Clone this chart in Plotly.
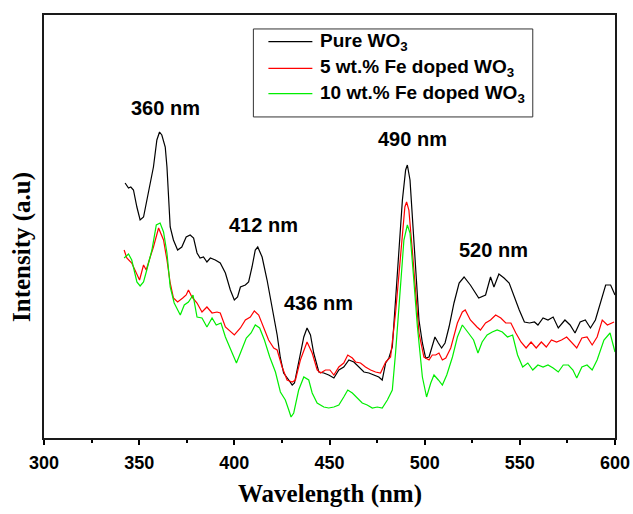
import plotly.graph_objects as go

# ---- data (wavelength in nm, intensity in a.u.) ----
pure_nm = [342.6, 344.4, 345.6, 347, 348.8, 350.5, 352.3, 354, 355.8, 357.5, 359.3, 360.7, 361.9, 363.7,
           364.6, 366.3, 368, 370.2, 372.4, 374.7, 376.8, 378.6, 380.4, 382, 383.8, 385.6, 387.4, 390,
           392.6, 395.3, 397.9, 400, 401.7, 403.2, 405.8, 407.5, 409.3, 411, 412.3, 414.6, 417.2, 419.9,
           422.5, 424.2, 425.9, 428.6, 430.4, 431.6, 433.8, 436.5, 438.2, 440, 441.7, 444.4, 447, 449.6,
           452.3, 454.9, 457.5, 460.2, 462.8, 465.4, 468.1, 470.7, 473.3, 475.9, 477.7, 479.5, 481.2, 483,
           484.7, 486.5, 488.3, 490, 490.9, 492.3, 493.5, 495.3, 497, 498.8, 500.5, 502.3, 504, 505.4,
           507.2, 508.9, 510.7, 512.8, 515.4, 518.1, 520.7, 524, 528.4, 532, 534.6, 536.4, 539, 541.7,
           544.4, 547.1, 549.7, 552.4, 555.1, 557.7, 559.5, 562.2, 564.8, 567.5, 570.2, 573.7, 576.4, 579,
           581.7, 584.4, 587.1, 589.7, 592.4, 595.1, 597.7, 600]
pure_int = [255, 250, 251, 248, 231, 218, 221, 238, 255, 271, 298, 306, 303, 291,
            271, 211, 198, 188, 191, 201, 203, 200, 185, 180, 181, 176, 180, 178,
            175, 165, 148, 138, 141, 151, 153, 156, 171, 188, 191, 181, 158, 131,
            103, 80, 65, 58, 53, 55, 75, 101, 110, 103, 85, 66, 65, 63,
            60, 68, 71, 78, 76, 71, 66, 65, 63, 61, 58, 75, 80, 91,
            138, 188, 238, 268, 273, 258, 221, 161, 118, 95, 80, 81, 91, 101,
            95, 90, 95, 111, 135, 155, 161, 153, 140, 143, 161, 151, 164, 160,
            155, 141, 128, 116, 115, 116, 113, 120, 118, 121, 110, 118, 113, 105,
            116, 118, 110, 118, 136, 153, 153, 143]

fe5_nm = [342.1, 343.5, 346.1, 348.4, 350.2, 352.3, 353.7, 355.8, 357.5, 360.2, 362.8, 364.6, 366.3, 368,
          370.2, 372.9, 374.7, 375.9, 377.7, 380.4, 383, 385.6, 388.3, 390.9, 392.6, 395.3, 397.9, 400,
          403.2, 405.8, 408.4, 410.5, 412.8, 415.4, 418, 420.7, 422.5, 425.1, 427.7, 430.4, 432.1, 434.7,
          438.2, 440.9, 443.5, 445.3, 447.9, 450.2, 452.3, 454.9, 457.5, 459.6, 462, 463.7, 466.3, 468.9,
          471.6, 474.2, 476.8, 479.5, 482.1, 484.7, 487.4, 489.6, 490.5, 491.7, 493.5, 495.3, 497, 499.6,
          502.3, 504, 505.8, 507.5, 509.3, 511.1, 513.7, 517.2, 519.8, 521.3, 524, 527.5, 529.3, 532,
          534.6, 537.3, 540, 542.6, 545.3, 547.9, 550.6, 553.3, 555.9, 558.6, 561.3, 563.9, 566.6, 569.3,
          571.9, 574.6, 577.3, 579.9, 582.6, 585.3, 588, 590.6, 593.3, 596, 599.5]
fe5_int = [188, 180, 175, 165, 158, 173, 168, 181, 191, 210, 198, 178, 155, 140,
           136, 140, 143, 148, 141, 135, 126, 131, 125, 126, 125, 111, 106, 103,
           110, 118, 121, 127, 123, 111, 98, 90, 88, 71, 58, 56, 58, 78,
           96, 85, 68, 65, 68, 68, 63, 71, 75, 83, 80, 76, 75, 71,
           68, 66, 65, 76, 81, 125, 188, 231, 236, 228, 188, 141, 105, 81,
           78, 83, 83, 85, 78, 80, 90, 115, 126, 128, 118, 111, 108, 115,
           118, 123, 120, 115, 115, 105, 96, 90, 96, 90, 96, 91, 98, 96,
           98, 101, 95, 90, 100, 101, 93, 101, 118, 113, 116]

fe10_nm = [342.1, 344.4, 346.1, 348.8, 350.5, 352.3, 354, 356.7, 359, 361, 362.8, 364.6, 366.3, 368.4,
           371.6, 373.7, 375.9, 378.3, 380.4, 383, 385.6, 388.3, 390.5, 393, 395.3, 398.8, 401.1, 403.2,
           406.3, 408.8, 411, 413.3, 415.8, 418.6, 421.6, 424.2, 426.8, 428.6, 429.8, 431.2, 433.8, 436.5,
           439.1, 440.9, 443.5, 447, 449.6, 452.3, 454.9, 457.5, 459.6, 462, 464.6, 467.2, 469.8, 472.5,
           475.1, 477.7, 480.4, 483, 484.7, 487.4, 489.1, 490.9, 492.3, 494, 496.2, 498.8, 501, 503.2,
           504.9, 507.2, 509.3, 511.6, 514.6, 517.2, 519.8, 523, 525.7, 528, 530.2, 532.8, 535.5, 538.1,
           540.8, 543.5, 546.2, 548.8, 551.5, 554.2, 556.8, 559.5, 562.2, 564.8, 567.5, 570.2, 572.8, 575.5,
           577.9, 579.9, 582.6, 585.3, 588, 590.6, 594.2, 597.4, 600]
fe10_int = [180, 184, 178, 156, 152, 156, 168, 188, 213, 215, 206, 185, 151, 135,
            123, 133, 136, 143, 121, 120, 111, 120, 113, 115, 101, 85, 75, 85,
            100, 105, 113, 110, 98, 81, 66, 46, 38, 28, 21, 25, 48, 61,
            58, 45, 35, 31, 30, 31, 33, 41, 48, 45, 40, 35, 33, 30,
            31, 30, 38, 48, 85, 155, 198, 213, 205, 165, 111, 61, 41, 55,
            63, 58, 53, 63, 81, 101, 113, 105, 98, 85, 96, 103, 106, 108,
            106, 101, 103, 83, 71, 75, 68, 73, 71, 73, 70, 66, 73, 73,
            68, 60, 71, 73, 68, 78, 98, 105, 86]

series_names = ["Pure WO<sub>3</sub>", "5 wt.% Fe doped WO<sub>3</sub>", "10 wt.% Fe doped WO<sub>3</sub>"]
series_colors = ["#000000", "#ff0000", "#00ee00"]

peak_labels = ["360 nm", "412 nm", "436 nm", "490 nm", "520 nm"]
peak_label_x = [363.7, 415.3, 444.2, 493.7, 536.3]
peak_label_y = [330, 213, 135, 299, 188]

x_ticks = [300, 350, 400, 450, 500, 550, 600]

fig = go.Figure()
for xs, ys, name, col in zip([pure_nm, fe5_nm, fe10_nm], [pure_int, fe5_int, fe10_int],
                             series_names, series_colors):
    fig.add_trace(go.Scatter(x=xs, y=ys, mode="lines", name=name, showlegend=False,
                             line=dict(color=col, width=1.2)))

for t, px, py in zip(peak_labels, peak_label_x, peak_label_y):
    fig.add_annotation(x=px, y=py, text=t, showarrow=False, xref="x", yref="y",
                       font=dict(family="Liberation Sans", size=20, color="#000000", weight="bold"))

# legend box drawn in paper coordinates
legend_row_y = [0.937, 0.874, 0.814]
fig.add_shape(type="rect", xref="paper", yref="paper", x0=0.3667, x1=0.856, y0=0.759, y1=0.967,
              line=dict(color="#333333", width=1), fillcolor="#ffffff", layer="above")
for name, col, ry in zip(series_names, series_colors, legend_row_y):
    fig.add_shape(type="line", xref="paper", yref="paper", x0=0.393, x1=0.470, y0=ry, y1=ry,
                  line=dict(color=col, width=1.2), layer="above")
    fig.add_annotation(x=0.4807, y=ry, xref="paper", yref="paper", text=name, showarrow=False,
                       xanchor="left", yanchor="middle",
                       font=dict(family="Liberation Sans", size=19, color="#000000", weight="bold"))

fig.add_annotation(x=0.5, y=-0.1324, xref="paper", yref="paper", text="Wavelength (nm)",
                   showarrow=False, yanchor="middle",
                   font=dict(family="Liberation Serif", size=25, color="#000000", weight="bold"))
fig.add_annotation(x=-0.0386, y=0.4515, xref="paper", yref="paper", text="Intensity (a.u)",
                   showarrow=False, textangle=-90, xanchor="center", yanchor="middle",
                   font=dict(family="Liberation Serif", size=25, color="#000000", weight="bold"))

fig.update_layout(
    width=633, height=514,
    margin=dict(l=44, r=18, t=15, b=76),
    paper_bgcolor="#ffffff", plot_bgcolor="#ffffff",
    showlegend=False,
    xaxis=dict(range=[300, 600], tickvals=x_ticks, ticks="outside", ticklen=5, tickwidth=1.5,
               tickcolor="#000000", showline=True, linecolor="#1a1a1a", linewidth=1.5, mirror=True,
               showgrid=False, zeroline=False, automargin=False, ticklabelstandoff=3,
               tickfont=dict(family="Liberation Sans", size=18, color="#000000", weight="bold"),
               minor=dict(dtick=25, ticks="outside", ticklen=3, tickcolor="#000000", tickwidth=1.5,
                          showgrid=False)),
    yaxis=dict(range=[0, 423], showticklabels=False, ticks="", showline=True, linecolor="#1a1a1a",
               linewidth=1.5, mirror=True, showgrid=False, zeroline=False, automargin=False),
)

fig.write_html("out.html")
